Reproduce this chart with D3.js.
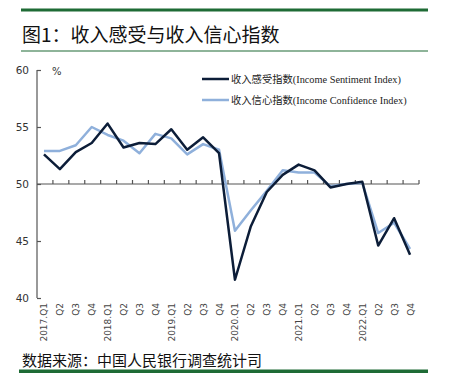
<!DOCTYPE html>
<html>
<head>
<meta charset="utf-8">
<script src="https://cdn.jsdelivr.net/npm/d3@7"></script>
<style>
  body { margin: 0; background: #fff; }
  svg { display: block; }
</style>
</head>
<body>
<div id="chart"></div>
<script>
// quarters 2017Q1 - 2022Q4
const quarters = ["2017.Q1","Q2","Q3","Q4","2018.Q1","Q2","Q3","Q4",
  "2019.Q1","Q2","Q3","Q4","2020.Q1","Q2","Q3","Q4",
  "2021.Q1","Q2","Q3","Q4","2022.Q1","Q2","Q3","Q4"];
const sentiment = [52.6,51.3,52.8,53.6,55.3,53.2,53.6,53.5,54.8,53.0,54.1,52.7,
  41.6,46.3,49.3,50.8,51.7,51.2,49.7,50.0,50.2,44.6,47.0,43.8];
const confidence = [52.9,52.9,53.4,55.0,54.3,53.8,52.7,54.4,54.0,52.6,53.5,53.0,
  45.9,47.7,49.4,51.2,51.0,51.0,49.8,50.0,50.1,45.7,46.6,44.3];
const yTicks = [40, 45, 50, 55, 60];

const width = 449, height = 373;
const svg = d3.select('#chart').append('svg')
  .attr('width', width)
  .attr('height', height);

const green = '#1e6b35';
const dark = '#0c1d38';
const light = '#8fb0db';

// title bars
svg.append('rect').attr('x', 21).attr('y', 8.5).attr('width', 407).attr('height', 3).attr('fill', green);
svg.append('rect').attr('x', 21).attr('y', 50.5).attr('width', 407).attr('height', 1).attr('fill', green);
svg.append('text')
  .attr('x', 22).attr('y', 42)
  .attr('font-family', '"Noto Sans CJK SC", sans-serif')
  .attr('font-size', 19)
  .attr('fill', '#111')
  .text('图1：收入感受与收入信心指数');

// footer
svg.append('text')
  .attr('x', 22).attr('y', 366)
  .attr('font-family', '"Noto Sans CJK SC", sans-serif')
  .attr('font-size', 15)
  .attr('fill', '#111')
  .text('数据来源：中国人民银行调查统计司');
svg.append('rect').attr('x', 19).attr('y', 369.5).attr('width', 409).attr('height', 3.5).attr('fill', green);

// scales
const x = d3.scaleBand().domain(d3.range(quarters.length)).range([37, 419]);
const y = d3.scaleLinear().domain([40, 60]).range([298, 70]);
const cx = i => x(i) + x.bandwidth() / 2 - 1;

const axisColor = '#555';

// y axis
const yAxis = svg.append('g')
  .attr('transform', 'translate(37,0)')
  .call(d3.axisRight(y).tickValues(yTicks).tickSize(4).tickFormat(''));
yAxis.select('.domain').attr('stroke', axisColor).attr('stroke-width', 1.2).attr('d', `M0,${y(40)}V${y(60)}`);
yAxis.selectAll('.tick line').attr('stroke', axisColor).attr('stroke-width', 1.2);

svg.append('g').selectAll('text')
  .data(yTicks).enter().append('text')
  .attr('x', 29)
  .attr('y', d => y(d) + 4)
  .attr('text-anchor', 'end')
  .attr('font-family', '"DejaVu Sans", sans-serif')
  .attr('font-size', 10.5)
  .attr('fill', '#333')
  .text(d => d);

svg.append('text')
  .attr('x', 52).attr('y', 75)
  .attr('font-family', '"DejaVu Sans", sans-serif')
  .attr('font-size', 10)
  .attr('fill', '#333')
  .text('%');

// x axis at 50 with ticks at band edges
const xAxis = svg.append('g').attr('transform', `translate(0,${y(50)})`);
xAxis.append('line')
  .attr('x1', 37).attr('x2', 419)
  .attr('stroke', axisColor).attr('stroke-width', 1.2);
xAxis.selectAll('.tk')
  .data(d3.range(1, quarters.length + 1)).enter().append('line')
  .attr('x1', i => x(0) + i * x.step()).attr('x2', i => x(0) + i * x.step())
  .attr('y1', 0).attr('y2', -4)
  .attr('stroke', axisColor).attr('stroke-width', 1.2);

// x labels, rotated
svg.append('g').selectAll('text')
  .data(quarters).enter().append('text')
  .attr('transform', (d, i) => `translate(${cx(i) + 3.5},303) rotate(-90)`)
  .attr('text-anchor', 'end')
  .attr('font-family', '"DejaVu Sans", sans-serif')
  .attr('font-size', 9)
  .attr('fill', '#444')
  .text(d => d);

// lines
const line = d3.line().x((d, i) => cx(i)).y(d => y(d));
svg.append('path').datum(confidence)
  .attr('d', line).attr('fill', 'none')
  .attr('stroke', light).attr('stroke-width', 2.5).attr('stroke-linejoin', 'round');
svg.append('path').datum(sentiment)
  .attr('d', line).attr('fill', 'none')
  .attr('stroke', dark).attr('stroke-width', 2.5).attr('stroke-linejoin', 'round');

// legend
const legend = [
  { label: '收入感受指数(Income Sentiment Index)', color: dark, ly: 79 },
  { label: '收入信心指数(Income Confidence Index)', color: light, ly: 100 }
];
const lg = svg.append('g').selectAll('g').data(legend).enter().append('g');
lg.append('line')
  .attr('x1', 202).attr('x2', 229)
  .attr('y1', d => d.ly).attr('y2', d => d.ly)
  .attr('stroke', d => d.color).attr('stroke-width', 2.5);
lg.append('text')
  .attr('x', 231).attr('y', d => d.ly + 3.5)
  .attr('font-family', '"Liberation Serif", "Noto Sans CJK SC", serif')
  .attr('font-size', 10.3)
  .attr('fill', '#222')
  .text(d => d.label);
</script>
</body>
</html>
